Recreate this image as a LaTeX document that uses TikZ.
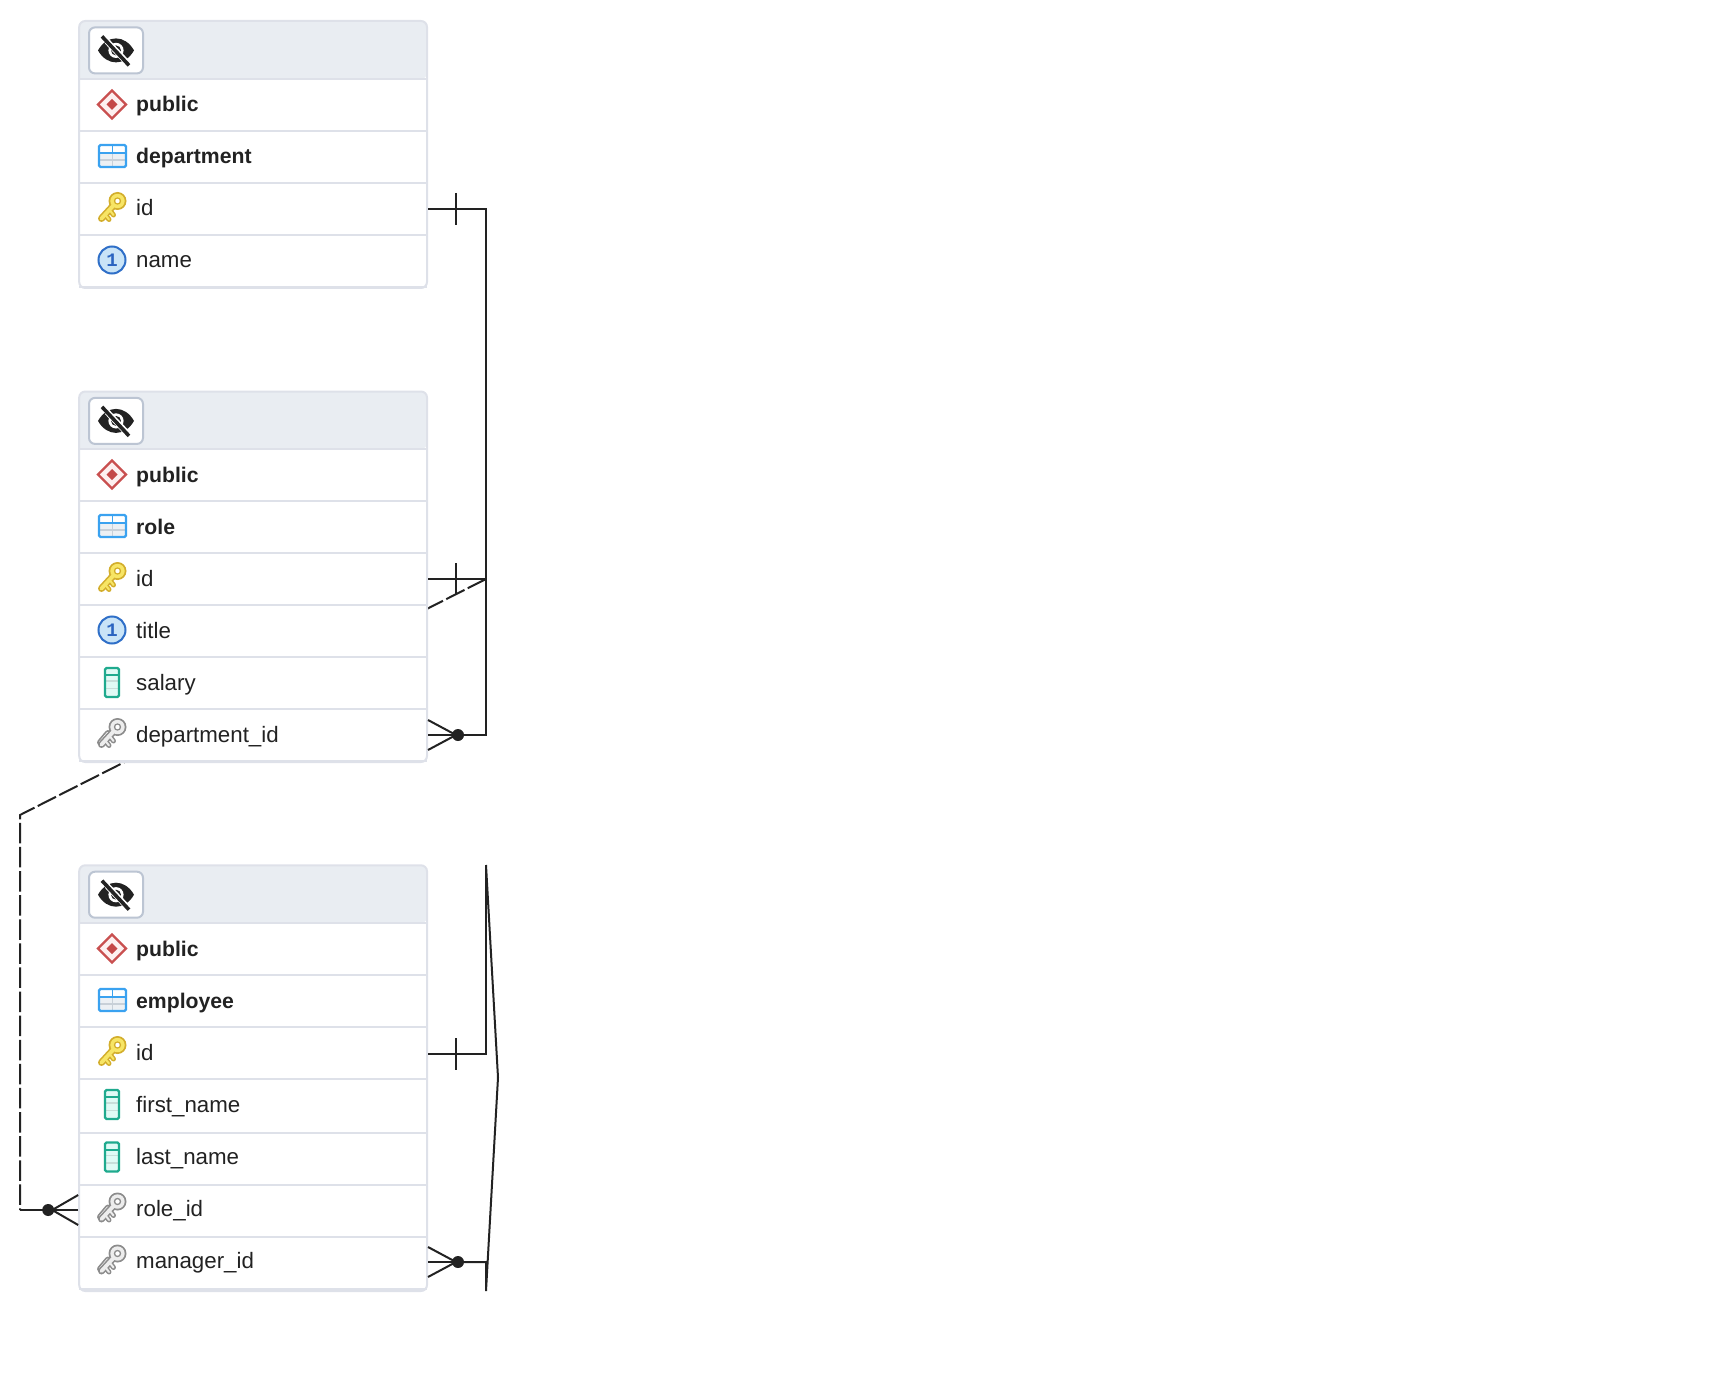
\documentclass[tikz,border=0pt]{standalone}
\usepackage{fontspec}
\setmainfont{Liberation Sans}
\newfontfamily\monobold{Liberation Mono}[BoldFont={Liberation Mono Bold}]
\usetikzlibrary{calc}
\pgfdeclarelayer{under}
\pgfsetlayers{under,main}
\definecolor{ink}{HTML}{222222}
\definecolor{rulecol}{HTML}{DEE1E9}
\definecolor{headcol}{HTML}{E9EDF2}
\definecolor{btnedge}{HTML}{BCC5D3}
\definecolor{DiaEdge}{HTML}{C95050}
\definecolor{DiaFill}{HTML}{FDF0F0}
\definecolor{DiaCore}{HTML}{C44848}
\definecolor{TabLow}{HTML}{ECF0F4}
\definecolor{TabGrey}{HTML}{C8D0D8}
\definecolor{TabBlue}{HTML}{3AA2F0}
\definecolor{UqEdge}{HTML}{2F6FC8}
\definecolor{UqFill}{HTML}{C9E4F7}
\definecolor{UqText}{HTML}{2A64C0}
\definecolor{ColFill}{HTML}{E0FAF5}
\definecolor{ColBand}{HTML}{C8DEDA}
\definecolor{ColEdge}{HTML}{1FAA8E}
\definecolor{KeyGold}{HTML}{F7E565}
\definecolor{KeyEdge}{HTML}{D3AE2C}
\definecolor{KeyPale}{HTML}{EDEDED}
\definecolor{KeyGrey}{HTML}{8C8C8C}
\newcommand{\keybody}[2]{%
  \draw[#2,line width=7pt,line cap=round] (-10.5,9.5) -- (1,-3);
  \draw[#2,line width=5pt,line cap=round] (-6.5,6) -- (-3,10.5) (-2,1.5) -- (1.5,6);
  \fill[#2] (5.5,-8) circle (9);
  \draw[#1,line width=3.8pt,line cap=round] (-10.5,9.5) -- (1,-3);
  \draw[#1,line width=2pt,line cap=round] (-6.5,6) -- (-3,10.5) (-2,1.5) -- (1.5,6);
  \fill[#1] (5.5,-8) circle (7.2);
  \fill[#2] (5.5,-8) circle (3.7);
  \fill[white] (5.5,-8) circle (2.2);
}
\tikzset{
  x=1pt,y=-1pt,
  rowbox/.style={inner sep=0pt,outer sep=0pt,minimum width=347.8pt,draw=none},
  collabel/.style={anchor=base west,inner sep=0pt,text=ink,font=\fontsize{22.3}{26}\selectfont},
  headlabel/.style={anchor=base west,inner sep=0pt,text=ink,font=\fontsize{21.2}{26}\selectfont\bfseries},
  link/.style={draw=ink,line width=2pt},
  dashedlink/.style={draw=ink,line width=2pt,dash pattern=on 20.5pt off 3.6pt},
  crowdot/.style={circle,fill=ink,inner sep=0pt,minimum size=12pt,outer sep=0pt},
  tablebox/.style={draw=rulecol,line width=2pt,rounded corners=6pt,inner sep=0pt,outer sep=0pt,minimum width=347.8pt},
  btn/.style={draw=btnedge,fill=white,line width=2pt,rounded corners=6pt,minimum width=54pt,minimum height=46pt,inner sep=0pt},
  pics/eyeicon/.style={code={
    \fill[ink] (-18,0) .. controls (-9,-16) and (9,-16) .. (18,0) .. controls (9,16) and (-9,16) .. (-18,0) -- cycle;
    \fill[white] (0,0) circle (7.6);
    \fill[ink] (0,0) circle (5);
    \draw[white,line width=6pt] (-9,-9) -- (10,11);
    \draw[ink,line width=3.6pt] (-14,-14) -- (13,15);
  }},
  pics/diamondicon/.style={code={
    \draw[draw=DiaEdge,fill=DiaFill,line width=2.2pt] (0,-14.5) -- (14,-0.5) -- (0,13.5) -- (-14,-0.5) -- cycle;
    \fill[DiaCore] (0,-6) -- (5.5,-0.5) -- (0,5) -- (-5.5,-0.5) -- cycle;
  }},
  pics/tableicon/.style={code={
    \fill[white] (-13,-12) rectangle (14,-4);
    \fill[TabLow] (-13,-4) rectangle (14,10);
    \draw[TabGrey,line width=1.4pt] (-13,3) -- (14,3);
    \draw[TabGrey,line width=1.4pt] (0.5,-4) -- (0.5,10);
    \draw[TabBlue,line width=1.8pt] (-13,-4) -- (14,-4) (0.5,-12) -- (0.5,-4);
    \draw[TabBlue,line width=2.2pt,rounded corners=1.5pt] (-13,-12) rectangle (14,10);
  }},
  pics/uniqueicon/.style={code={
    \draw[draw=UqEdge,fill=UqFill,line width=2pt] (0,-1) circle (13.5);
    \node[inner sep=0pt,text=UqText,font=\monobold\fontsize{19}{19}\selectfont\bfseries] (one) at (0,-1) {1};
  }},
  pics/columnicon/.style={code={
    \fill[ColFill] (-7,-15) rectangle (7,14);
    \fill[ColBand] (-7,-3) rectangle (7,6);
    \fill[ColFill] (-7,-1.5) rectangle (7,4.5);
    \draw[ColEdge,line width=2pt] (-7,-8) -- (7,-8);
    \draw[ColEdge,line width=2.2pt,rounded corners=1.5pt] (-7,-15) rectangle (7,14);
  }},
  pics/keyicon/.style={code={
    \keybody{KeyGold}{KeyEdge}
  }},
  pics/fkicon/.style={code={
    \draw[KeyGrey,line width=1.8pt] (-1,-6.5) arc[start angle=205,end angle=290,radius=9.5];
    \draw[KeyGrey,line width=6pt,line cap=round] (-12,7.5) -- (-4,-2);
    \draw[white,line width=2.6pt,line cap=round] (-12,7.5) -- (-4,-2);
    \keybody{KeyPale}{KeyGrey}
  }},
}
% \dbtable{name}{top}{bottom}{header bottom}
\newcommand{\dbtable}[4]{%
  \pgfmathsetmacro{\tcy}{(#2+#3)/2}%
  \pgfmathsetmacro{\tht}{#3-#2}%
  \fill[white,rounded corners=6pt] (79.2,#2) rectangle (427,#3);
  \fill[headcol,rounded corners=6pt] (79.2,#4) -- (79.2,#2) -- (427,#2) -- (427,#4) [sharp corners] -- cycle;
  \node[tablebox,minimum height=\tht pt] (#1) at (253.1,\tcy) {};
  \draw[rulecol,line width=2pt] (79.2,#4) -- (427,#4);
  \pgfmathsetmacro{\by}{#2+29.4}%
  \node[btn] (#1btn) at (116,\by) {};
  \pic at (116,\by) {eyeicon};
}
% \dbrow{name}{top}{bottom}{text}{icon}{label style}{content offset}
\newcommand{\dbrow}[7]{%
  \pgfmathsetmacro{\cy}{(#2+#3)/2}%
  \pgfmathsetmacro{\rh}{#3-#2}%
  \pgfmathsetmacro{\iy}{\cy+(#7)}%
  \pgfmathsetmacro{\ty}{\iy+7}%
  \node[rowbox,minimum height=\rh pt] (#1) at (253.1,\cy) {};
  \pic (#1icon) at (112,\iy) {#5};
  \node[#6] (#1text) at (136,\ty) {#4};
  \draw[rulecol,line width=2pt] (#1.south west) -- (#1.south east);
}
% crow's foot on the right of a row (given a point on the table edge), dot included
\newcommand{\crowright}[2]{%
  \node[crowdot] (#1dot) at ($(#2)+(31,0)$) {};
  \draw[link] ($(#2)+(1,-15)$) -- ($(#2)+(29,0)$) -- ($(#2)+(1,15)$);
  \draw[link] ($(#2)+(1,0)$) -- (#1dot);
}
\begin{document}
\begin{tikzpicture}
\useasboundingbox (0,0) rectangle (1734,1396);

% ---- department
\dbtable{dept}{21}{288}{79}
\dbrow{deptschema}{79}{131}{public}{diamondicon}{headlabel}{0}
\dbrow{depttable}{131}{183}{department}{tableicon}{headlabel}{0}
\dbrow{deptid}{183}{235}{id}{keyicon}{collabel}{0}
\dbrow{deptname}{235}{287}{name}{uniqueicon}{collabel}{0}

% ---- role
\dbtable{role}{391.5}{762}{449}
\dbrow{roleschema}{449}{501}{public}{diamondicon}{headlabel}{0}
\dbrow{roletable}{501}{553}{role}{tableicon}{headlabel}{0}
\dbrow{roleid}{553}{605}{id}{keyicon}{collabel}{0}
\dbrow{roletitle}{605}{657}{title}{uniqueicon}{collabel}{0}
\dbrow{rolesalary}{657}{709}{salary}{columnicon}{collabel}{0}
\dbrow{roledept}{709}{761}{department\_id}{fkicon}{collabel}{0}

% ---- employee
\dbtable{emp}{865.3}{1291}{923}
\dbrow{empschema}{923}{975}{public}{diamondicon}{headlabel}{0}
\dbrow{emptable}{975}{1027}{employee}{tableicon}{headlabel}{0}
\dbrow{empid}{1027}{1079}{id}{keyicon}{collabel}{0}
\dbrow{empfirst}{1079}{1133}{first\_name}{columnicon}{collabel}{-1}
\dbrow{emplast}{1133}{1185}{last\_name}{columnicon}{collabel}{-1.5}
\dbrow{emprole}{1185}{1237}{role\_id}{fkicon}{collabel}{-1.5}
\dbrow{empmgr}{1237}{1289}{manager\_id}{fkicon}{collabel}{-1.5}

% ---- free ends
\coordinate (busdept) at (486,209);
\coordinate (roletop) at (486,579);
\coordinate (dashbend) at (20,815);
\coordinate (selftop) at (486,865);
\coordinate (selfbottom) at (486,1291);
\coordinate (selfapex) at (498,1077.5);
\coordinate (emprolept) at ($(emprole.west)+(0,-1)$);
\coordinate (empmgrpt) at ($(empmgr.east)+(0,-1)$);
\coordinate (empidpt) at ($(empid.east)+(0,1)$);

% ---- dashed connector passes behind the role table
\begin{pgfonlayer}{under}
  \draw[dashedlink] (roletop) -- (dashbend) -- (dashbend |- emprolept);
\end{pgfonlayer}

% ---- department.id -> role.department_id
\crowright{roledept}{roledept.east}
\draw[link] ($(deptid.east)+(1,0)$) -- (busdept) -- (busdept |- roledept.east) -- (roledeptdot);
\draw[link] ($(deptid.east)+(29,-16)$) -- ($(deptid.east)+(29,16)$);

% ---- role.id -> employee.role_id
\draw[link] ($(roleid.east)+(1,0)$) -- (roletop);
\draw[link] ($(roleid.east)+(29,-16)$) -- ($(roleid.east)+(29,16)$);
\node[crowdot] (emproledot) at ($(emprolept)+(-31,0)$) {};
\draw[link] ($(emprolept)+(-1,-15)$) -- ($(emprolept)+(-27,0)$) -- ($(emprolept)+(-1,15)$);
\draw[link] ($(emprolept)+(-1,0)$) -- (dashbend |- emprolept);

% ---- employee.id -> employee.manager_id
\crowright{empmgr}{empmgrpt}
\draw[link] ($(empidpt)+(1,0)$) -- (selftop |- empidpt) -- (selftop);
\draw[link] ($(empidpt)+(29,-16)$) -- ($(empidpt)+(29,16)$);
\draw[link] (empmgrdot) -- (selfbottom |- empmgrpt) -- (selfbottom) -- (selfapex) -- (selftop);
\end{tikzpicture}
\end{document}
